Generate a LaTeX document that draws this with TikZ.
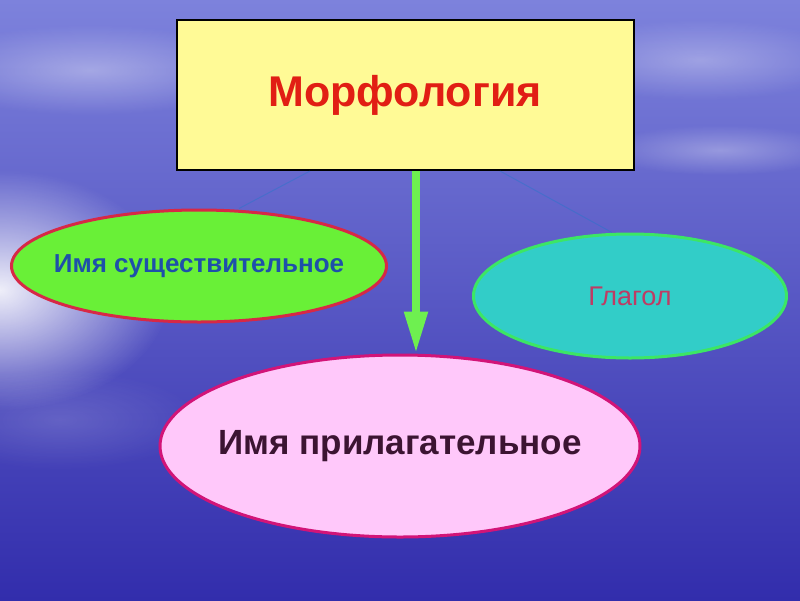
\documentclass[tikz,border=0pt]{standalone}
\usepackage{fontspec}
\setmainfont{Liberation Sans}
\usepackage{xcolor}
\usetikzlibrary{shapes.geometric, arrows.meta, fadings}
\definecolor{skytop}{RGB}{125,130,220}
\definecolor{skymid}{RGB}{72,68,198}
\definecolor{seadeep}{RGB}{50,45,172}
\definecolor{boxyellow}{RGB}{255,250,150}
\definecolor{morphred}{RGB}{225,30,20}
\definecolor{nounfill}{RGB}{105,240,55}
\definecolor{nounedge}{RGB}{215,40,70}
\definecolor{nountext}{RGB}{30,80,170}
\definecolor{verbfill}{RGB}{50,205,200}
\definecolor{verbedge}{RGB}{60,230,100}
\definecolor{verbtext}{RGB}{190,60,100}
\definecolor{adjfill}{RGB}{255,200,250}
\definecolor{adjedge}{RGB}{210,20,120}
\definecolor{adjtext}{RGB}{60,20,50}
\definecolor{arrowgreen}{RGB}{110,240,80}
\tikzfading[name=glow fade, inner color=transparent!0, outer color=transparent!100]
% keep the ellipse size from the text
\newcommand{\wordtext}[1]{\makebox[0pt]{#1}}
\tikzset{
  %word class node style
  wordclass/.style={
    ellipse
    , draw
    %, fill=white
    , line width=3pt
    , inner sep=0pt
    , anchor=center
    , text centered
    %, minimum width={10em},
    %, minimum height={4em},
  },
}

\begin{document}
\begin{tikzpicture}[x=1pt,y=-1pt]
  \tikzstyle{topic}=[draw, fill=boxyellow, line width=2pt, text=morphred
                     , minimum width=457pt, minimum height=150pt
                     , font=\bfseries\fontsize{43}{48}\selectfont]
  \tikzstyle{noun}=[wordclass, fill=nounfill, draw=nounedge, text=nountext
                    , minimum width=375pt, minimum height=112pt
                    , font=\bfseries\fontsize{26}{30}\selectfont]
  \tikzstyle{verb}=[wordclass, fill=verbfill, draw=verbedge, text=verbtext
                    , minimum width=313pt, minimum height=124pt
                    , font=\fontsize{27}{30}\selectfont]
  \tikzstyle{adj}=[wordclass, fill=adjfill, draw=adjedge, text=adjtext
                   , minimum width=480pt, minimum height=182pt
                   , font=\bfseries\fontsize{35}{40}\selectfont]
  \tikzstyle{link}=[cyan!60!blue, line width=1pt, opacity=0.35]
  \tikzstyle{cloud}=[white, path fading=glow fade]

  % sky and sea
  \useasboundingbox (0,0) rectangle (800,600);
  \fill[top color=skytop, middle color=skymid, bottom color=seadeep] (0,0) rectangle (800,600);
  \fill[cloud, opacity=0.9] (0,290) ellipse (170 and 120);
  \fill[cloud, opacity=0.35] (90,70) ellipse (170 and 45);
  \fill[cloud, opacity=0.3] (700,60) ellipse (150 and 40);
  \fill[cloud, opacity=0.3] (720,150) ellipse (120 and 25);
  \fill[cloud, opacity=0.15] (60,420) ellipse (140 and 50);

  \node [topic,align=center] (morph) at (405,95) {Морфология};
  \node [noun] (noun) at (199,266) {\wordtext{Имя существительное}};
  \node [verb] (verb) at (630,296) {\wordtext{Глагол}};
  \node [adj] (adj) at (400,446) {\wordtext{Имя прилагательное}};

  \draw [link] ([xshift=-95pt]morph.south) -- ([xshift=40pt]noun.north);
  \draw [link] ([xshift=95pt]morph.south) -- ([xshift=-18pt]verb.north);

  \draw [-{Triangle[length=42pt,width=22pt]}, arrowgreen, line width=8pt]
    ([xshift=11pt]morph.south) -- ([xshift=11pt]morph.south |- adj.north);

\end{tikzpicture}
\end{document}
